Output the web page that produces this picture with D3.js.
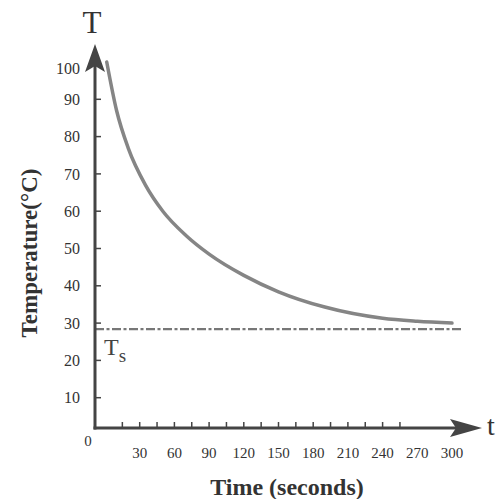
<!DOCTYPE html>
<html><head><meta charset="utf-8">
<script src="https://cdn.jsdelivr.net/npm/d3@7"></script>
<style>body{margin:0;background:#fff;} svg{display:block;}</style>
</head><body>
<svg id="c" width="504" height="499"></svg>
<script>
const times = [1.5,10,20,35,50,70,90,120,150,190,240,270,300];
const temps = [100,87,77,67,60,53.5,48.5,42.8,38.4,34.3,31.3,30.5,30];
const surroundTemp = 28.4;
const xTickLabels = [30,60,90,120,150,180,210,240,270,300];
const xMinorTicks = [15,30,45,60,75,90,105,120,135,150,165,180,195,210,225,240,255];
const yTickLabels = [10,20,30,40,50,60,70,80,90,100];

const svg = d3.select("#c");
const serif = "'Liberation Serif','DejaVu Serif',serif";
const axisColor = "#444";
const x = d3.scaleLinear().domain([0,300]).range([105,452]);
const y = d3.scaleLinear().domain([0,100]).range([435,62]);
const axisX = 95, axisY = 428;

// Ts dash-dot line
svg.append("line").attr("x1",axisX).attr("x2",462)
  .attr("y1",y(surroundTemp)).attr("y2",y(surroundTemp))
  .attr("stroke","#777").attr("stroke-width",2.2).attr("stroke-dasharray","9,2.5,3,2.5");

// curve
const line = d3.line().x((d,i)=>x(times[i])).y(d=>y(d)).curve(d3.curveMonotoneX);
svg.append("path").attr("d",line(temps)).attr("fill","none")
  .attr("stroke","#858585").attr("stroke-width",3.5).attr("stroke-linecap","round");

// axes lines
svg.append("line").attr("x1",axisX).attr("x2",axisX).attr("y1",axisY+1.5).attr("y2",66)
  .attr("stroke",axisColor).attr("stroke-width",3);
svg.append("line").attr("x1",axisX-1.5).attr("x2",456).attr("y1",axisY).attr("y2",axisY)
  .attr("stroke",axisColor).attr("stroke-width",3);
// arrowheads
svg.append("path").attr("d",`M${axisX},44 L${axisX+10},72 L${axisX},66 L${axisX-10},72 Z`).attr("fill",axisColor);
svg.append("path").attr("d",`M482,${axisY} L450,${axisY-9} L456,${axisY} L450,${axisY+9} Z`).attr("fill",axisColor);

// y ticks
svg.selectAll(".yt").data(yTickLabels.filter(v=>v<100)).enter().append("line")
  .attr("x1",axisX).attr("x2",axisX+6).attr("y1",d=>y(d)).attr("y2",d=>y(d))
  .attr("stroke",axisColor).attr("stroke-width",1.5);
svg.selectAll(".yl").data(yTickLabels).enter().append("text")
  .attr("x",80).attr("y",d=>y(d)+(d===100?6:0)).attr("dy","0.35em")
  .attr("text-anchor","end").attr("font-family",serif).attr("font-size",16).attr("fill","#333")
  .text(d=>d);

// x ticks
svg.selectAll(".xt").data(xMinorTicks).enter().append("line")
  .attr("x1",d=>x(d)).attr("x2",d=>x(d)).attr("y1",axisY).attr("y2",axisY-6)
  .attr("stroke",axisColor).attr("stroke-width",1.5);
svg.selectAll(".xl").data(xTickLabels).enter().append("text")
  .attr("x",d=>x(d)).attr("y",458).attr("text-anchor","middle")
  .attr("font-family",serif).attr("font-size",15).attr("fill","#333").text(d=>d);
svg.append("text").attr("x",88).attr("y",446).attr("text-anchor","middle")
  .attr("font-family",serif).attr("font-size",15).attr("fill","#333").text("0");

// axis letters
svg.append("text").attr("x",92).attr("y",33).attr("text-anchor","middle")
  .attr("font-family",serif).attr("font-size",31).attr("fill","#333").text("T");
svg.append("text").attr("x",491).attr("y",435).attr("text-anchor","middle")
  .attr("font-family",serif).attr("font-size",28).attr("fill","#333").text("t");

// Ts label
const ts = svg.append("text").attr("x",104).attr("y",355)
  .attr("font-family",serif).attr("font-size",24).attr("fill","#444");
ts.append("tspan").text("T");
ts.append("tspan").attr("dy",7).attr("font-size",19).text("s");

// titles
svg.append("text").attr("transform","translate(37,253) rotate(-90)").attr("text-anchor","middle")
  .attr("font-family",serif).attr("font-weight","bold").attr("font-size",23).attr("fill","#333")
  .text("Temperature(°C)");
svg.append("text").attr("x",287).attr("y",495).attr("text-anchor","middle")
  .attr("font-family",serif).attr("font-weight","bold").attr("font-size",24).attr("fill","#333")
  .text("Time (seconds)");
</script>
</body></html>
